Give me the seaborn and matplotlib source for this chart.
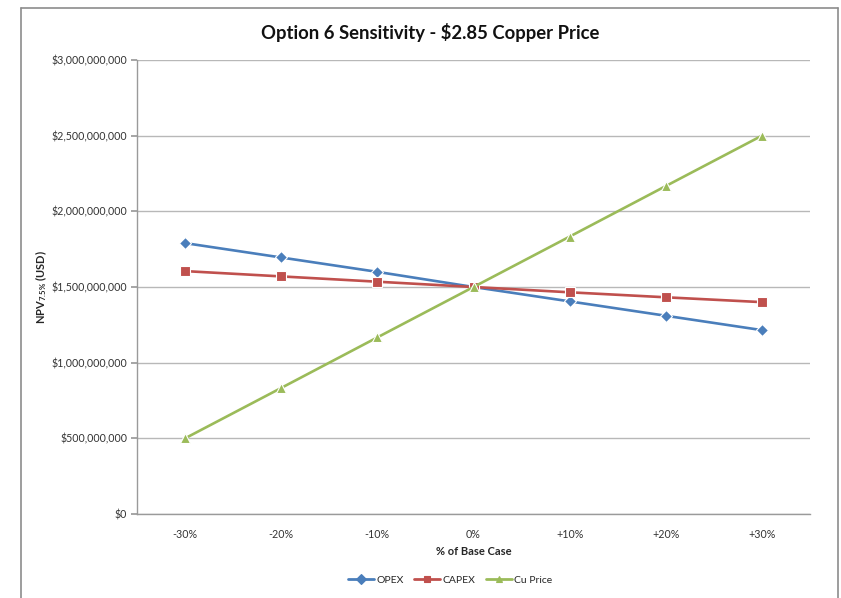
import matplotlib
matplotlib.use("Agg")
import matplotlib.pyplot as plt
import seaborn as sns
import pandas as pd
from matplotlib.lines import Line2D
from matplotlib.ticker import FuncFormatter

categories = ["-30%", "-20%", "-10%", "0%", "+10%", "+20%", "+30%"]
opex = [1.790e9, 1.695e9, 1.600e9, 1.500e9, 1.405e9, 1.310e9, 1.215e9]
capex = [1.605e9, 1.570e9, 1.535e9, 1.500e9, 1.465e9, 1.432e9, 1.400e9]
cu_price = [0.500e9, 0.833e9, 1.167e9, 1.500e9, 1.833e9, 2.167e9, 2.500e9]
series_names = ["OPEX", "CAPEX", "Cu Price"]
yticks = [0, 5e8, 1e9, 1.5e9, 2e9, 2.5e9, 3e9]

sns.set_theme(style="white")
plt.rcParams['font.family'] = ['Lato', 'DejaVu Sans']
plt.rcParams['mathtext.fontset'] = 'custom'
plt.rcParams['mathtext.rm'] = 'Lato:bold'
plt.rcParams['mathtext.it'] = 'Lato:bold'
plt.rcParams['mathtext.bf'] = 'Lato:bold'

rows = []
for name, vals in zip(series_names, [opex, capex, cu_price]):
    for i, v in enumerate(vals):
        rows.append({"x": i, "cat": categories[i], "series": name, "value": v})
df = pd.DataFrame(rows)

colors = {"OPEX": "#4A7EBB", "CAPEX": "#C0504D", "Cu Price": "#9BBB59"}
markers = {"OPEX": "D", "CAPEX": "s", "Cu Price": "^"}

fig = plt.figure(figsize=(8.41, 5.98), dpi=100)
ax = fig.add_axes([137/841, 1-514/598, (810-137)/841, (514-60)/598])

sns.lineplot(data=df, x="x", y="value", hue="series", style="series",
             palette=colors, markers=markers, dashes=False, ax=ax,
             linewidth=1.9, markersize=6.5, legend=False)
for ln in ax.lines:
    ln.set_markeredgewidth(0.8)

ax.set_xlim(-0.5, 6.5)
ax.set_ylim(0, 3e9)
ax.set_xticks(range(len(categories)))
ax.set_xticklabels(categories)
ax.set_yticks(yticks)
ax.yaxis.set_major_formatter(FuncFormatter(lambda v, p: "${:,.0f}".format(v)))
ax.grid(axis="y", color="#B8B8B8", linewidth=1)
ax.set_axisbelow(True)
for s in ["top", "right"]:
    ax.spines[s].set_visible(False)
for s in ["left", "bottom"]:
    ax.spines[s].set_color("#9A9A9A")
    ax.spines[s].set_linewidth(1)
ax.tick_params(axis="y", left=True, length=4, color="#9A9A9A", labelsize=7.7, labelcolor="#333333", pad=3)
ax.tick_params(axis="x", bottom=False, labelsize=7.7, labelcolor="#333333", pad=5)

ax.set_xlabel("% of Base Case", fontsize=8, fontweight="bold", labelpad=4)
ax.set_ylabel(r"NPV$_{7.5\%}$ (USD)", fontsize=8, fontweight="bold", labelpad=2)

fig.text(430/841, 1-33/598, "Option 6 Sensitivity - $2.85 Copper Price", ha="center", va="center",
         fontsize=13.3, fontweight="bold", color="#111111")

handles = [Line2D([0], [0], color=colors[n], marker=markers[n], markersize=5, linewidth=2,
                  markeredgewidth=0.8) for n in series_names]
fig.legend(handles, series_names, loc="center", bbox_to_anchor=(450/841, 1-580/598), ncol=3,
           frameon=False, fontsize=7.5, handlelength=2.5, columnspacing=1.0, handletextpad=0.2)

# outer chart frame
fig.add_artist(Line2D([21/841, 21/841], [0, 1-8/598], color="#8C8C8C", linewidth=1.2, transform=fig.transFigure))
fig.add_artist(Line2D([21/841, 838/841], [1-8/598, 1-8/598], color="#8C8C8C", linewidth=1.2, transform=fig.transFigure))
fig.add_artist(Line2D([838/841, 838/841], [0, 1-8/598], color="#8C8C8C", linewidth=1.2, transform=fig.transFigure))

fig.savefig("out.png", dpi=100)
